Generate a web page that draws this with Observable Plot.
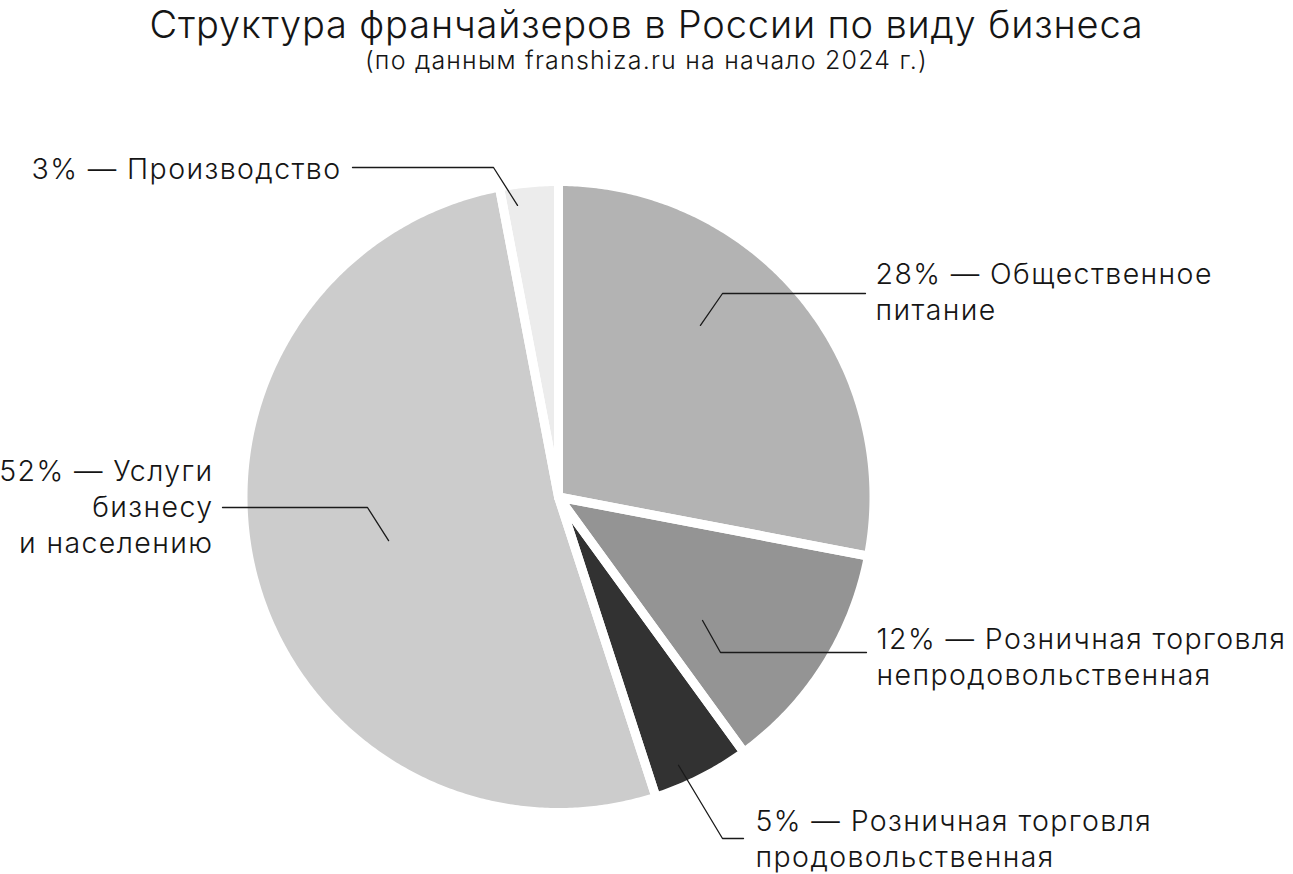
<!DOCTYPE html>
<html><head><meta charset="utf-8">
<script src="https://cdn.jsdelivr.net/npm/d3@7"></script>
<script src="https://cdn.jsdelivr.net/npm/@observablehq/plot@0.6"></script>
<style>
body{margin:0;background:#fff;font-family:Inter,sans-serif;color:#151515;}
#head{position:relative;height:86px;width:1293px;}
#title{position:absolute;left:0;width:1293px;top:1px;line-height:normal;text-align:center;font-size:38px;font-weight:300;letter-spacing:0.85px;}
#sub{position:absolute;left:0;width:1293px;top:48px;line-height:25px;text-align:center;font-size:25px;font-weight:300;letter-spacing:1.2px;}
#chart{width:1293px;height:788px;}
</style></head><body>
<div id="head"><div id="title">Структура франчайзеров в России по виду бизнеса</div><div id="sub">(по данным franshiza.ru на начало 2024 г.)</div></div>
<div id="chart"></div>
<script>
// ---- data ----
const categories = ["Общественное питание", "Розничная торговля непродовольственная", "Розничная торговля продовольственная", "Услуги бизнесу и населению", "Производство"];
const shares = [28, 12, 5, 52, 3];
const labelTexts = [
  "28% — Общественное\nпитание",
  "12% — Розничная торговля\nнепродовольственная",
  "5% — Розничная торговля\nпродовольственная",
  "52% — Услуги\nбизнесу\nи населению",
  "3% — Производство"
];
// ---- styles / layout ----
const palette = ["#b3b3b3", "#949494", "#323232", "#cccccc", "#ececec"];
const W = 1293, H = 788, headH = 86;
const cx = 558, cy = 496.5 - headH;   // pie centre in svg pixels
const Rvis = 311, gap = 9, R = Rvis + gap / 2;
// label layout: leader start (angle shift deg, radius fraction), elbow & text position relative to centre (px)
const labelLayout = [
  {dA: -10.8, rf: 0.716, elbow: [164, -203.5], end: [307, -203.5], tx: 317, ty: -206.5, anchor: "start"},
  {dA: 8.2,  rf: 0.61,  elbow: [162, 155.5],  end: [308, 155.5],  tx: 318, ty: 158.5, anchor: "start"},
  {dA: 2.9,  rf: 0.945, elbow: [164, 341.5],  end: [185, 341.5],  tx: 197, ty: 340,   anchor: "start"},
  {dA: 0,    rf: 0.564, elbow: [-191, 10.5],  end: [-336, 10.5],  tx: -345, ty: 8.5,  anchor: "end"},
  {dA: -2.6, rf: 0.947, elbow: [-65, -329.5], end: [-206, -329.5], tx: -217, ty: -329.5, anchor: "end"}
];

const table = categories.map((name, i) => ({name, value: shares[i], label: labelTexts[i], ...labelLayout[i]}));
const arcs = d3.pie().sort(null).value(d => d.value)(table);
const polar = (a, r) => [r * Math.sin(a), -r * Math.cos(a)];

const slicePts = [];
for (const a of arcs) {
  const name = a.data.name;
  slicePts.push({name, x: 0, y: 0});
  const n = Math.max(2, Math.ceil((a.endAngle - a.startAngle) / (Math.PI / 360)));
  for (let k = 0; k <= n; k++) {
    const t = a.startAngle + (a.endAngle - a.startAngle) * k / n;
    const [x, y] = polar(t, R);
    slicePts.push({name, x, y});
  }
  slicePts.push({name, x: 0, y: 0});
}

const leaderPts = [];
const labels = [];
for (const a of arcs) {
  const d = a.data;
  const mid = (a.startAngle + a.endAngle) / 2 + d.dA * Math.PI / 180;
  const [sx, sy] = polar(mid, d.rf * Rvis);
  leaderPts.push({name: d.name, x: sx, y: sy}, {name: d.name, x: d.elbow[0], y: d.elbow[1]}, {name: d.name, x: d.end[0], y: d.end[1]});
  labels.push({x: d.tx, y: d.ty, text: d.label, anchor: d.anchor});
}

const textOpts = {x: "x", y: "y", text: "text", lineAnchor: "middle", fontSize: 28.5, lineHeight: 1.27, fill: "#151515", fontWeight: 300, fontFamily: "Inter"};

const chart = Plot.plot({
  width: W, height: H, margin: 0,
  x: {domain: [-cx, W - cx], range: [0, W], axis: null},
  y: {domain: [-cy, H - cy], range: [0, H], axis: null},
  color: {domain: categories, range: palette},
  style: {fontFamily: "Inter", background: "#fff", letterSpacing: "1.4px"},
  marks: [
    Plot.line(slicePts, {x: "x", y: "y", z: "name", fill: "name", stroke: null}),
    Plot.line(slicePts, {x: "x", y: "y", z: "name", stroke: "#fff", strokeWidth: gap, strokeLinejoin: "round"}),
    Plot.line(leaderPts, {x: "x", y: "y", z: "name", stroke: "#1a1a1a", strokeWidth: 1.3, strokeLinejoin: "miter"}),
    Plot.text(labels.filter(d => d.anchor === "start"), {...textOpts, textAnchor: "start"}),
    Plot.text(labels.filter(d => d.anchor === "end"), {...textOpts, textAnchor: "end"})
  ]
});
document.getElementById("chart").appendChild(chart);
</script>
</body></html>
